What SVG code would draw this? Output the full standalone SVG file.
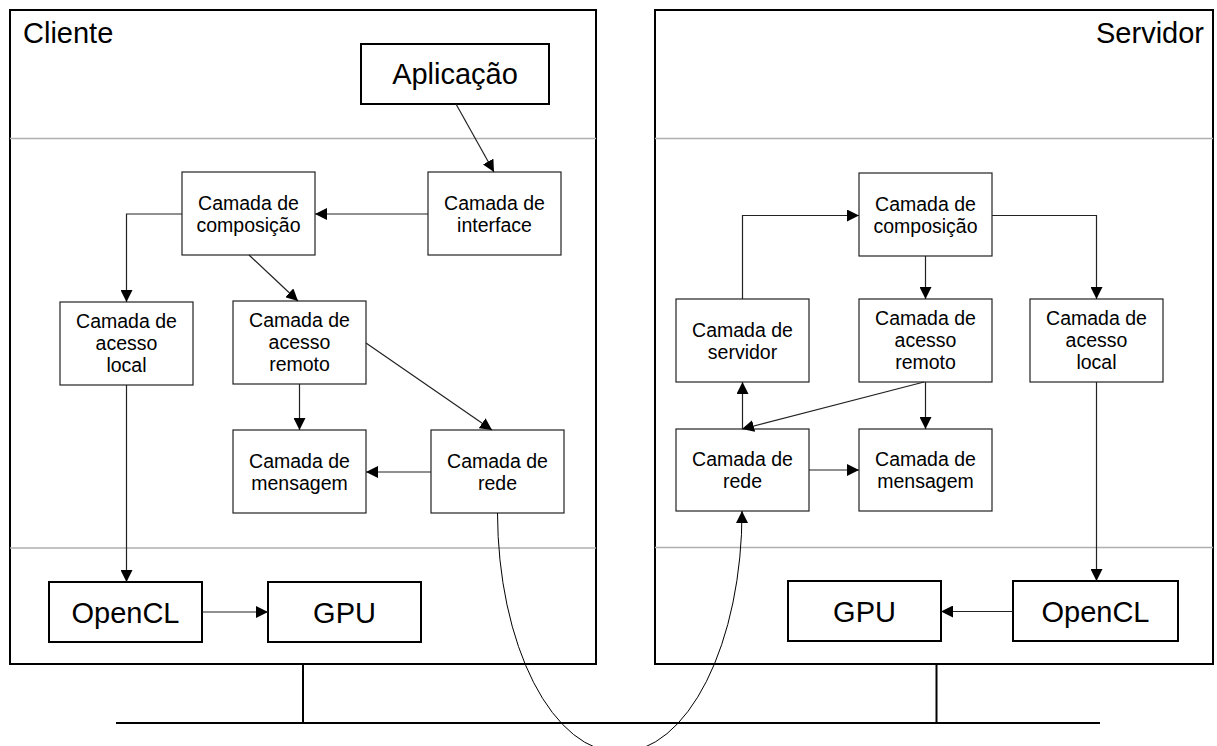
<svg xmlns="http://www.w3.org/2000/svg" width="1217" height="746" viewBox="0 0 1217 746">
<defs>
<marker id="arr" markerUnits="userSpaceOnUse" markerWidth="12" markerHeight="12" refX="12" refY="6" orient="auto">
<path d="M0,0 L12,6 L0,12 z" fill="#000"/>
</marker>
</defs>
<style>
.cont{fill:none;stroke:#000;stroke-width:2}
.sep{fill:none;stroke:#b0b0b0;stroke-width:1.5}
.box{fill:#fff;stroke:#222;stroke-width:1.2}
.big{fill:#fff;stroke:#000;stroke-width:2}
.lbl{font-family:"Liberation Sans",Arial,sans-serif;font-size:19.5px;fill:#000;text-anchor:middle}
.blbl{font-family:"Liberation Sans",Arial,sans-serif;font-size:29px;fill:#000;text-anchor:middle}
.title{font-family:"Liberation Sans",Arial,sans-serif;font-size:29px;fill:#000}
.con{fill:none;stroke:#222;stroke-width:1.2;marker-end:url(#arr)}
.bus{fill:none;stroke:#000;stroke-width:2}
</style>

<g id="cliente">
<rect class="cont" x="10" y="10" width="586" height="654"/>
<path class="sep" d="M10,138.5 H596 M10,548 H596"/>
<text class="title" x="23" y="43">Cliente</text>
</g>
<g id="servidor">
<rect class="cont" x="655" y="10" width="558" height="654"/>
<path class="sep" d="M655,138.5 H1213 M655,547.5 H1213"/>
<text class="title" x="1204" y="43" text-anchor="end">Servidor</text>
</g>

<g id="rede-fisica">
<path class="bus" d="M303,664 V723 M936.5,664 V723 M116,723 H1100"/>
</g>

<g id="c-aplicacao"><rect class="big" x="361" y="44" width="188" height="60"/><text class="blbl" x="455" y="83.5">Aplicação</text></g>
<g id="c-composicao"><rect class="box" x="182" y="172" width="133" height="83"/><text class="lbl" x="248.5" y="209.5">Camada de</text><text class="lbl" x="248.5" y="231.5">composição</text></g>
<g id="c-interface"><rect class="box" x="428" y="172" width="133" height="83"/><text class="lbl" x="494.5" y="209.5">Camada de</text><text class="lbl" x="494.5" y="231.5">interface</text></g>
<g id="c-acesso-local"><rect class="box" x="60" y="302" width="133" height="83"/><text class="lbl" x="126.5" y="327.5">Camada de</text><text class="lbl" x="126.5" y="349.5">acesso</text><text class="lbl" x="126.5" y="371.5">local</text></g>
<g id="c-acesso-remoto"><rect class="box" x="233" y="301" width="133" height="83"/><text class="lbl" x="299.5" y="326.5">Camada de</text><text class="lbl" x="299.5" y="348.5">acesso</text><text class="lbl" x="299.5" y="370.5">remoto</text></g>
<g id="c-mensagem"><rect class="box" x="233" y="430" width="133" height="83"/><text class="lbl" x="299.5" y="467.5">Camada de</text><text class="lbl" x="299.5" y="489.5">mensagem</text></g>
<g id="c-rede"><rect class="box" x="431" y="430" width="133" height="83"/><text class="lbl" x="497.5" y="467.5">Camada de</text><text class="lbl" x="497.5" y="489.5">rede</text></g>
<g id="c-opencl"><rect class="big" x="49" y="582" width="153" height="60"/><text class="blbl" x="125.5" y="623">OpenCL</text></g>
<g id="c-gpu"><rect class="big" x="268" y="582" width="153" height="60"/><text class="blbl" x="344.5" y="623">GPU</text></g>

<g id="s-composicao"><rect class="box" x="859" y="173" width="133" height="83"/><text class="lbl" x="925.5" y="210.5">Camada de</text><text class="lbl" x="925.5" y="232.5">composição</text></g>
<g id="s-servidor"><rect class="box" x="676" y="299" width="133" height="83"/><text class="lbl" x="742.5" y="336.5">Camada de</text><text class="lbl" x="742.5" y="358.5">servidor</text></g>
<g id="s-acesso-remoto"><rect class="box" x="859" y="299" width="133" height="83"/><text class="lbl" x="925.5" y="324.5">Camada de</text><text class="lbl" x="925.5" y="346.5">acesso</text><text class="lbl" x="925.5" y="368.5">remoto</text></g>
<g id="s-acesso-local"><rect class="box" x="1030" y="299" width="133" height="83"/><text class="lbl" x="1096.5" y="324.5">Camada de</text><text class="lbl" x="1096.5" y="346.5">acesso</text><text class="lbl" x="1096.5" y="368.5">local</text></g>
<g id="s-rede"><rect class="box" x="676" y="429" width="133" height="82"/><text class="lbl" x="742.5" y="466">Camada de</text><text class="lbl" x="742.5" y="488">rede</text></g>
<g id="s-mensagem"><rect class="box" x="859" y="429" width="133" height="82"/><text class="lbl" x="925.5" y="466">Camada de</text><text class="lbl" x="925.5" y="488">mensagem</text></g>
<g id="s-gpu"><rect class="big" x="788" y="581" width="153" height="60"/><text class="blbl" x="864.5" y="622">GPU</text></g>
<g id="s-opencl"><rect class="big" x="1013" y="581" width="165" height="60"/><text class="blbl" x="1095.5" y="622">OpenCL</text></g>

<g id="connectors">
<path class="con" d="M456,104 L494,172"/>
<path class="con" d="M428,214 H315"/>
<path class="con" d="M182,214 H126.5 V302"/>
<path class="con" d="M249,255 L298,301"/>
<path class="con" d="M299.5,384 V430"/>
<path class="con" d="M366,343 L492,430"/>
<path class="con" d="M431,472 H366"/>
<path class="con" d="M126.5,385 V582"/>
<path class="con" d="M202,612 H268"/>
<path class="con" style="stroke:#000;stroke-width:1" d="M497.5,513 A122 240 0 0 0 742,511"/>
<path class="con" d="M742.5,299 V215.5 H859"/>
<path class="con" d="M925.5,256 V299"/>
<path class="con" d="M992,215.5 H1096.5 V299"/>
<path class="con" d="M925.5,382 V429"/>
<path class="con" d="M924,382 L742,429"/>
<path class="con" d="M742.5,429 V382"/>
<path class="con" d="M809,470 H859"/>
<path class="con" d="M1096.5,382 V581"/>
<path class="con" d="M1013,611.5 H941"/>
</g>
</svg>
